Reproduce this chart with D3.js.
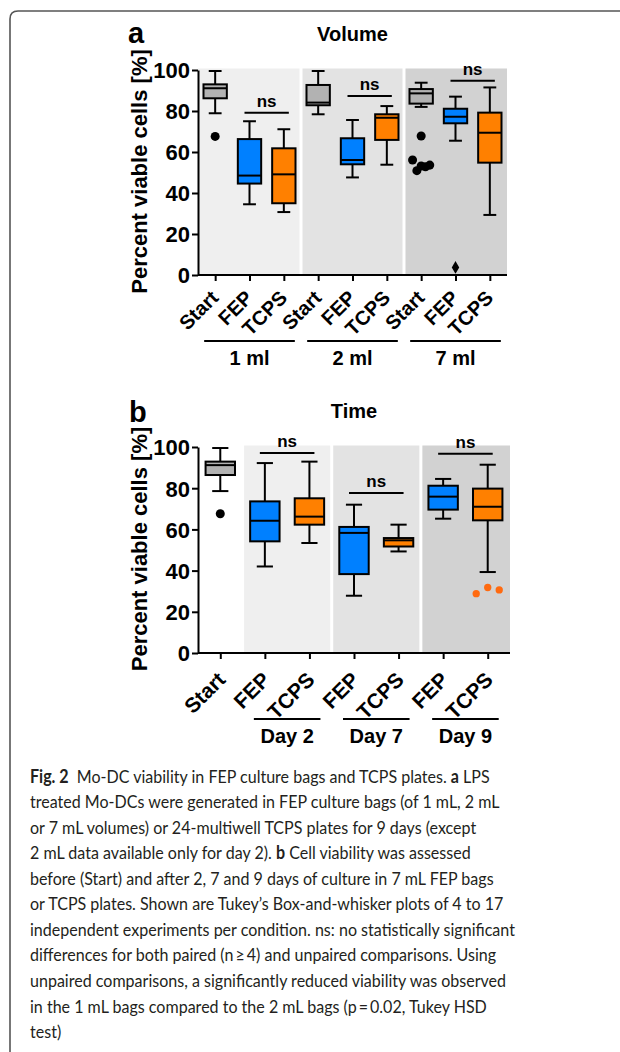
<!DOCTYPE html>
<html>
<head>
<meta charset="utf-8">
<script src="https://cdn.jsdelivr.net/npm/d3@7"></script>
<style>
    body { margin: 0; background: #fff; }
    svg { display: block; }
    .axis path, .axis line { stroke: #000; stroke-width: 2; }
    .axis text { font-family: "Liberation Sans", Arial, sans-serif; font-weight: bold; fill: #000; }
    .caption { font-family: Lato, "Open Sans", sans-serif; fill: #231f20; }
</style>
</head>
<body>
<div id="chart"></div>
<script>

// ---- panel a: volume ----
const volumeCategories = ["Start", "FEP", "TCPS", "Start", "FEP", "TCPS", "Start", "FEP", "TCPS"];
const volumeGroups = ["1 ml", "2 ml", "7 ml"];
const volumeGroupSpans = [[0, 2], [3, 5], [6, 8]];
const volumeLow    = [78.9, 34.5, 30.7, 78.4, 47.6, 53.8, 82.0, 65.5, 29.3];
const volumeQ1     = [86.2, 44.6, 35.0, 82.8, 54.0, 65.9, 83.6, 74.0, 54.8];
const volumeMedian = [91.1, 48.5, 49.1, 84.1, 56.1, 76.7, 88.6, 77.2, 69.4];
const volumeQ3     = [93.0, 66.3, 61.8, 92.7, 66.7, 78.4, 90.7, 81.1, 79.2];
const volumeHigh   = [99.5, 75.0, 71.1, 99.5, 75.6, 82.4, 93.8, 87.0, 91.5];
const volumeOutliers = [[67.6], [], [], [], [], [], [67.8, 56.1, 50.9, 53.2, 52.8, 53.6], [3.7], []];
const volumeNsPairs = [[1, 2], [4, 5], [7, 8]];
const volumeNsLevel = [79.2, 87.3, 94.8];

// ---- panel b: time ----
const timeCategories = ["Start", "FEP", "TCPS", "FEP", "TCPS", "FEP", "TCPS"];
const timeGroups = ["Day 2", "Day 7", "Day 9"];
const timeGroupSpans = [[1, 2], [3, 4], [5, 6]];
const timeLow    = [78.6, 42.0, 53.4, 27.8, 49.3, 65.2, 39.3];
const timeQ1     = [86.4, 54.2, 62.3, 38.3, 51.7, 69.6, 64.4];
const timeMedian = [91.2, 64.2, 66.2, 58.3, 54.7, 75.9, 71.0];
const timeQ3     = [92.9, 73.6, 75.1, 61.2, 55.8, 81.2, 79.8];
const timeHigh   = [99.5, 92.2, 92.9, 72.0, 62.3, 84.5, 91.4];
const timeOutliers = [[67.6], [], [], [], [], [], [28.8, 31.8, 30.6]];
const timeNsPairs = [[1, 2], [3, 4], [5, 6]];
const timeNsLevel = [97.1, 77.7, 96.7];

const yTicks = [0, 20, 40, 60, 80, 100];

const captionLines = [
    [["Fig. 2", true], ["  Mo-DC viability in FEP culture bags and TCPS plates. ", false], ["a", true], [" LPS", false]],
    [["treated Mo-DCs were generated in FEP culture bags (of 1 mL, 2 mL", false]],
    [["or 7 mL volumes) or 24-multiwell TCPS plates for 9 days (except", false]],
    [["2 mL data available only for day 2). ", false], ["b", true], [" Cell viability was assessed", false]],
    [["before (Start) and after 2, 7 and 9 days of culture in 7 mL FEP bags", false]],
    [["or TCPS plates. Shown are Tukey\u2019s Box-and-whisker plots of 4 to 17", false]],
    [["independent experiments per condition. ns: no statistically significant", false]],
    [["differences for both paired (n\u2009\u2265\u20094) and unpaired comparisons. Using", false]],
    [["unpaired comparisons, a significantly reduced viability was observed", false]],
    [["in the 1 mL bags compared to the 2 mL bags (p\u2009=\u20090.02, Tukey HSD", false]],
    [["test)", false]]
];

const boxFill = {Start: "#b2b2b2", FEP: "#0080ff", TCPS: "#ff8000"};
const bandFill = ["#efefef", "#e3e3e3", "#d2d2d2"];
const font = '"Liberation Sans", Arial, sans-serif';

const svg = d3.select("#chart").append("svg")
    .attr("width", 620)
    .attr("height", 1052);

// frame round the figure
svg.append("path")
    .attr("d", "M10,1052 L10,19 Q10,11 18,11 L620,11")
    .attr("fill", "none")
    .attr("stroke", "#555")
    .attr("stroke-width", 1.6);


class BoxPanel {

    constructor(svg, cfg) {
        this.svg = svg;
        this.cfg = cfg;
        this.initVis();
    }

    initVis() {
        let vis = this;
        let c = vis.cfg;

        vis.g = vis.svg.append("g");

        vis.x = d3.scalePoint()
            .domain(d3.range(c.categories.length))
            .range([c.left, c.right])
            .padding(0.5);
        vis.step = vis.x.step();

        vis.y = d3.scaleLinear()
            .domain([0, 100])
            .range([c.bottom, c.top]);

        vis.boxW = vis.step * c.boxFrac;
        vis.capW = vis.boxW * 0.55;

        vis.drawBands();
        vis.drawAxes();
        vis.drawBoxes();
        vis.drawLabels();
    }

    drawBands() {
        let vis = this;
        let c = vis.cfg;
        let edges = d => {
            let x0 = vis.x(d[0]) - vis.step / 2;
            let x1 = vis.x(d[1]) + vis.step / 2;
            x0 = x0 <= c.left + 0.5 ? c.left : x0 + 1.5;
            x1 = x1 >= c.right - 0.5 ? c.right : x1 - 1.5;
            return [x0, x1];
        };
        vis.g.selectAll(".band")
            .data(c.groupSpans)
            .enter().append("rect")
            .attr("class", "band")
            .attr("x", d => edges(d)[0])
            .attr("width", d => edges(d)[1] - edges(d)[0])
            .attr("y", vis.y(100) - 1.5)
            .attr("height", vis.y(0) - vis.y(100) + 1.5)
            .attr("fill", (d, i) => bandFill[i]);
    }

    drawAxes() {
        let vis = this;
        let c = vis.cfg;

        let yAxis = vis.g.append("g")
            .attr("class", "axis")
            .attr("transform", `translate(${c.left},0)`)
            .call(d3.axisLeft(vis.y).tickValues(yTicks).tickSize(6).tickSizeOuter(0).tickPadding(2));
        yAxis.selectAll("text").attr("font-size", 22).attr("dy", "0.36em");

        let xAxis = vis.g.append("g")
            .attr("class", "axis")
            .attr("transform", `translate(0,${c.bottom})`)
            .call(d3.axisBottom(vis.x).tickSize(6).tickSizeOuter(0).tickFormat(i => c.categories[i]));
        xAxis.select(".domain").attr("d", `M${c.left},0H${c.right}`);
        xAxis.selectAll("text")
            .attr("font-size", c.xTickSize)
            .attr("x", 0).attr("y", 0).attr("dy", 0)
            .attr("text-anchor", "end")
            .attr("transform", `translate(${c.xLabelShift[0]},${c.xLabelShift[1]}) rotate(-45)`);

        // group lines + names under the rotated labels
        let grp = vis.g.selectAll(".grp")
            .data(c.groupSpans)
            .enter().append("g")
            .attr("class", "grp");
        grp.append("line")
            .attr("x1", d => vis.x(d[0]) - 11)
            .attr("x2", d => vis.x(d[1]) + 11)
            .attr("y1", c.bottom + 66)
            .attr("y2", c.bottom + 66)
            .attr("stroke", "#000")
            .attr("stroke-width", 2);
        grp.append("text")
            .attr("x", d => (vis.x(d[0]) + vis.x(d[1])) / 2)
            .attr("y", c.bottom + 90)
            .attr("text-anchor", "middle")
            .attr("font-family", font)
            .attr("font-weight", "bold")
            .attr("font-size", 20)
            .text((d, i) => c.groups[i]);
    }

    drawBoxes() {
        let vis = this;
        let c = vis.cfg;
        let idx = d3.range(c.categories.length);

        let box = vis.g.selectAll(".box")
            .data(idx)
            .enter().append("g")
            .attr("class", "box")
            .attr("transform", i => `translate(${vis.x(i)},0)`);

        box.append("line")
            .attr("y1", i => vis.y(c.high[i]))
            .attr("y2", i => vis.y(c.low[i]))
            .attr("stroke", "#000").attr("stroke-width", 2);

        box.selectAll(".cap")
            .data(i => [c.high[i], c.low[i]])
            .enter().append("line")
            .attr("class", "cap")
            .attr("x1", -vis.capW / 2).attr("x2", vis.capW / 2)
            .attr("y1", d => vis.y(d)).attr("y2", d => vis.y(d))
            .attr("stroke", "#000").attr("stroke-width", 2);

        box.append("rect")
            .attr("x", -vis.boxW / 2)
            .attr("width", vis.boxW)
            .attr("y", i => vis.y(c.q3[i]))
            .attr("height", i => vis.y(c.q1[i]) - vis.y(c.q3[i]))
            .attr("fill", i => boxFill[c.categories[i]])
            .attr("stroke", "#000").attr("stroke-width", 2);

        box.append("line")
            .attr("x1", -vis.boxW / 2).attr("x2", vis.boxW / 2)
            .attr("y1", i => vis.y(c.median[i])).attr("y2", i => vis.y(c.median[i]))
            .attr("stroke", "#000").attr("stroke-width", 2);

        // outliers, points close in value get spread sideways
        let pts = [];
        idx.forEach(i => {
            let clusters = [];
            c.outliers[i].forEach(v => {
                let cl = clusters.find(k => k.some(w => Math.abs(w - v) < 6));
                if (cl) cl.push(v); else clusters.push([v]);
            });
            clusters.forEach(cl => cl.forEach((v, k) => {
                pts.push({i: i, v: v, dx: (k - (cl.length - 1) / 2) * c.spread});
            }));
        });

        vis.g.selectAll(".outlier")
            .data(pts)
            .enter().append("path")
            .attr("class", "outlier")
            .attr("transform", d => `translate(${vis.x(d.i) + d.dx},${vis.y(d.v)})`)
            .attr("d", d => {
                let cat = c.categories[d.i];
                if (cat === "FEP") return d3.symbol(d3.symbolDiamond, 48)();
                if (cat === "TCPS") return d3.symbol(d3.symbolCircle, 42)();
                return d3.symbol(d3.symbolCircle, 64)();
            })
            .attr("fill", d => c.categories[d.i] === "TCPS" ? "#ff6a10" : "#000");

        // ns brackets
        let ns = vis.g.selectAll(".ns")
            .data(c.nsPairs)
            .enter().append("g")
            .attr("class", "ns");
        ns.append("line")
            .attr("x1", d => vis.x(d[0]) - 5)
            .attr("x2", d => vis.x(d[1]) + 5)
            .attr("y1", (d, i) => vis.y(c.nsLevel[i]))
            .attr("y2", (d, i) => vis.y(c.nsLevel[i]))
            .attr("stroke", "#000").attr("stroke-width", 2);
        ns.append("text")
            .attr("x", d => (vis.x(d[0]) + vis.x(d[1])) / 2)
            .attr("y", (d, i) => vis.y(c.nsLevel[i]) - 6)
            .attr("text-anchor", "middle")
            .attr("font-family", font)
            .attr("font-weight", "bold")
            .attr("font-size", 17)
            .text("ns");
    }

    drawLabels() {
        let vis = this;
        let c = vis.cfg;

        vis.g.append("text")
            .attr("x", c.letterPos[0])
            .attr("y", c.letterPos[1])
            .attr("font-family", font)
            .attr("font-weight", "bold")
            .attr("font-size", 29)
            .text(c.letter);

        vis.g.append("text")
            .attr("x", (c.left + c.right) / 2)
            .attr("y", c.titleY)
            .attr("text-anchor", "middle")
            .attr("font-family", font)
            .attr("font-weight", "bold")
            .attr("font-size", 20)
            .text(c.title);

        vis.g.append("text")
            .attr("transform", `translate(147,${(c.top + c.bottom) / 2 - 1}) rotate(-90)`)
            .attr("text-anchor", "middle")
            .attr("font-family", font)
            .attr("font-weight", "bold")
            .attr("font-size", 22)
            .text("Percent viable cells [%]");
    }
}


new BoxPanel(svg, {
    letter: "a", title: "Volume",
    letterPos: [128, 43], titleY: 41,
    categories: volumeCategories, groups: volumeGroups, groupSpans: volumeGroupSpans,
    low: volumeLow, q1: volumeQ1, median: volumeMedian, q3: volumeQ3, high: volumeHigh,
    outliers: volumeOutliers, nsPairs: volumeNsPairs, nsLevel: volumeNsLevel,
    left: 198, right: 507, top: 70, bottom: 275,
    boxFrac: 0.68, spread: 4.3, xTickSize: 20, xLabelShift: [4, 24]
});

new BoxPanel(svg, {
    letter: "b", title: "Time",
    letterPos: [129, 422], titleY: 418,
    categories: timeCategories, groups: timeGroups, groupSpans: timeGroupSpans,
    low: timeLow, q1: timeQ1, median: timeMedian, q3: timeQ3, high: timeHigh,
    outliers: timeOutliers, nsPairs: timeNsPairs, nsLevel: timeNsLevel,
    left: 198, right: 510, top: 447, bottom: 653,
    boxFrac: 0.66, spread: 11.5, xTickSize: 21, xLabelShift: [6, 28]
});

// caption, squeezed sideways so the longest line ends where the reference does
let capG = svg.append("g").attr("class", "caption");

captionLines.forEach((line, li) => {
    let t = capG.append("text")
        .attr("x", 0)
        .attr("y", 783 + li * 25.5)
        .attr("font-size", 18);
    line.forEach(part => {
        t.append("tspan")
            .attr("font-weight", part[1] ? "bold" : "normal")
            .style("white-space", "pre")
            .text(part[0]);
    });
});

let widest = d3.max(capG.selectAll("text").nodes(), n => n.getComputedTextLength());
capG.attr("transform", `translate(30,0) scale(${485 / widest},1)`);

</script>
</body>
</html>
